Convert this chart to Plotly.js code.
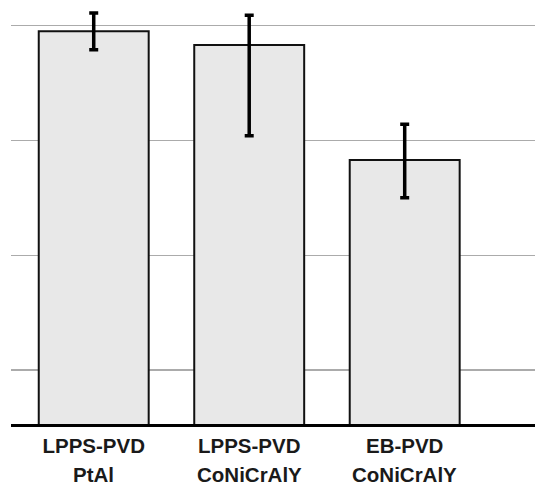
<!DOCTYPE html>
<html>
<head>
<meta charset="utf-8">
<script src="https://cdn.plot.ly/plotly-3.0.1.min.js"></script>
<style>html,body{margin:0;padding:0;background:#fff;}#chart{width:535px;height:483px;}</style>
</head>
<body>
<div id="chart"></div>
<script>
// Data (units: gridline spacing = 1)
var labelLine1 = ["LPPS-PVD", "LPPS-PVD", "EB-PVD"];
var labelLine2 = ["PtAl", "CoNiCrAlY", "CoNiCrAlY"];
var values = [3.95, 3.83, 2.83];
var errPlus = [0.16, 0.26, 0.31];
var errMinus = [0.16, 0.79, 0.33];
var gridTicks = [1, 2, 3, 4];

var categories = labelLine1.map(function (a, i) { return a + " " + labelLine2[i]; });

var labelFont = {family: "Liberation Sans, Arial, sans-serif", size: 20.5, color: "#1a1a1a", weight: "bold"};

var trace = {
  type: "bar",
  x: categories,
  y: values,
  width: 0.707,
  marker: {color: "#e8e8e8", line: {color: "#111", width: 2}},
  error_y: {
    type: "data", symmetric: false,
    array: errPlus, arrayminus: errMinus,
    color: "#000", thickness: 3.5, width: 4.5
  },
  hoverinfo: "none"
};

var annotations = categories.map(function (c, i) {
  return {
    x: c, xref: "x", y: 0, yref: "paper",
    yanchor: "top", xanchor: "center",
    yshift: -37, showarrow: false,
    text: labelLine2[i], font: labelFont
  };
});

var layout = {
  width: 535, height: 483,
  margin: {l: 11, r: 0, t: 0, b: 59},
  paper_bgcolor: "#fff", plot_bgcolor: "#fff",
  showlegend: false,
  xaxis: {
    type: "category",
    range: [-0.532, 2.838],
    tickvals: categories, ticktext: labelLine1,
    tickfont: labelFont,
    ticklabelstandoff: 2,
    showgrid: false, zeroline: false,
    showline: true, linecolor: "#000", linewidth: 2.5,
    ticks: "", fixedrange: true
  },
  yaxis: {
    range: [0.530, 4.223],
    tickvals: gridTicks, showticklabels: false,
    showgrid: true, gridcolor: "#ababab", gridwidth: 1.3,
    zeroline: false, showline: false, ticks: "", fixedrange: true
  },
  annotations: annotations
};

Plotly.newPlot("chart", [trace], layout, {displayModeBar: false, staticPlot: true});
</script>
</body>
</html>
